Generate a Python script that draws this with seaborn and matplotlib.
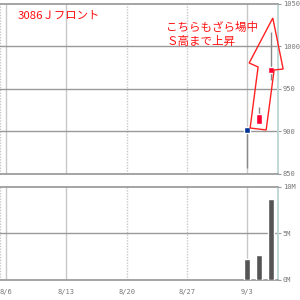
import matplotlib
matplotlib.use("Agg")
import matplotlib.pyplot as plt
import seaborn as sns
import pandas as pd
from matplotlib.patches import Polygon

# 日足データ (営業日インデックス)
day_idx = [20, 21, 22]
opens = [905, 909, 969]
closes = [898, 921, 976]
highs = [905, 929, 1017]
lows = [857, 909, 960]
volumes = [2.26, 2.7, 8.7]  # 百万株

date_pos = [0, 5, 10, 15, 20]
date_labels = ["8/6", "8/13", "8/20", "8/27", "9/3"]
grid_solid = [0, 5, 20]
grid_dotted = [10, 15]

price_ticks = [850, 900, 950, 1000, 1050]
vol_ticks = [0, 5, 10]
vol_labels = ["0M", "5M", "10M"]

# 注釈の矢印 (データ座標)
arrow_x = [22.13, 22.99, 22.24, 21.58, 20.25, 20.91, 20.17]
arrow_y = [1033.5, 973.5, 972.4, 901.8, 904.1, 975.9, 980.6]

sns.set_theme(style="white")
plt.rcParams["font.family"] = ["Noto Sans CJK JP", "DejaVu Sans"]

fig = plt.figure(figsize=(3, 3), dpi=100)
ax = fig.add_axes([0.0, 0.42, 0.927, 0.5667])
axv = fig.add_axes([0.0, 0.0667, 0.927, 0.31])

xlim = (-0.5, 22.57)
grid_c = "#999999"
vgrid_c = "#c8c8c8"
tick_font = dict(family="DejaVu Sans Mono", size=5, color="#777777")

for a in (ax, axv):
    a.set_xlim(*xlim)
    for x in grid_solid:
        a.axvline(x, color=vgrid_c, lw=1, zorder=0)
    for x in grid_dotted:
        a.axvline(x, color=vgrid_c, lw=1, ls=(0, (1, 1)), zorder=0)
    a.axvline(xlim[0] + 0.02, color=vgrid_c, lw=1, ls=(0, (1, 1)), zorder=0)
    a.spines["left"].set_visible(False)
    a.spines["right"].set_color("#b8d4d4")
    a.spines["right"].set_linestyle((0, (1, 1)))
    a.spines["top"].set_color(grid_c)
    a.spines["bottom"].set_color(grid_c)
    a.yaxis.tick_right()
    a.tick_params(axis="y", length=2.5, width=0.8, color=grid_c, pad=1)
    a.set_facecolor("white")

# ローソク足
ax.set_ylim(850, 1050)
for t in price_ticks[1:-1]:
    ax.axhline(t, color=grid_c, lw=1, zorder=0)
for i, o, c, h, l in zip(day_idx, opens, closes, highs, lows):
    ax.vlines(i, l, h, color="#888888", lw=1, zorder=2)
    col = "#ff0033" if c > o else "#003399"
    ax.bar(i, abs(c - o), bottom=min(o, c), width=0.5, color=col, zorder=3)
ax.set_yticks(price_ticks)
ax.set_yticklabels([str(t) for t in price_ticks], fontdict=tick_font)
ax.set_xticks([])

arrow = Polygon(list(zip(arrow_x, arrow_y)), closed=True, fill=False,
                edgecolor="#ff2222", lw=1, clip_on=False, zorder=4)
ax.add_patch(arrow)

ax.text(1.0, 1036, "3086Ｊフロント", color="#ff1111",
        fontsize=8.2, va="center", ha="left")
ax.text(13.3, 1014, "こちらもざら場中\nＳ高まで上昇", color="#ff1111",
        fontsize=8.3, va="center", ha="left", linespacing=1.12)

# 出来高
vol_df = pd.DataFrame({"day": day_idx, "vol": volumes})
sns.barplot(data=vol_df, x="day", y="vol", native_scale=True, width=0.53,
            color="#555555", saturation=1, ax=axv, zorder=3)
axv.set_xlim(*xlim)
axv.set_ylim(0, 10)
axv.axhline(5, color=grid_c, lw=1, zorder=0)
axv.set_yticks(vol_ticks)
axv.set_yticklabels(vol_labels, fontdict=tick_font)
axv.set_xticks(date_pos)
axv.set_xticklabels(date_labels, fontdict=tick_font)
axv.set_xticks(range(23), minor=True)
axv.tick_params(axis="x", which="major", length=5.5, width=1, color=vgrid_c, pad=1)
axv.tick_params(axis="x", which="minor", length=2.5, width=0.8, color=vgrid_c)
axv.set_xlabel("")
axv.set_ylabel("")

fig.savefig("out.png", dpi=100)
